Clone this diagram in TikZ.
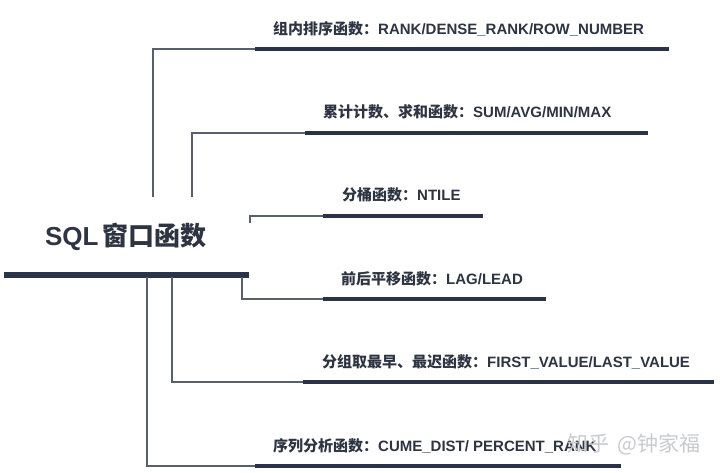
\documentclass[tikz,border=0pt]{standalone}
\usepackage{fontspec}
\newfontfamily\cjk{Noto Sans CJK SC}
\newfontfamily\lat{Liberation Sans}
\definecolor{navy}{HTML}{2B3446}
\definecolor{txt}{HTML}{2E3442}
\definecolor{conn}{HTML}{5A606B}
\definecolor{wm}{HTML}{C9CBCF}
\tikzset{
  bar/.style={navy, line width=4.2pt},
  mainbar/.style={navy, line width=5.5pt},
  link/.style={conn, line width=1.1pt},
  lbl/.style={anchor=west, inner sep=0pt, text=txt, font=\fontsize{15}{17}\selectfont\bfseries},
}
\begin{document}
\begin{tikzpicture}[x=1pt,y=-1pt]
\useasboundingbox (0,0) rectangle (720,473);
\fill[white] (0,0) rectangle (720,473);
% title
\node[inner sep=0pt, text=txt, font=\fontsize{26}{28}\selectfont\bfseries] (title) at (126,237) {\lat SQL\,\cjk 窗口函数};
\coordinate (m0) at (4,275);
\coordinate (m1) at (249,275);
\draw[mainbar] (m0) -- (m1);
% bars
\coordinate (b1s) at (255,49);  \coordinate (b1e) at (669,49);
\coordinate (b2s) at (305,133); \coordinate (b2e) at (648,133);
\coordinate (b3s) at (323,216); \coordinate (b3e) at (483,216);
\coordinate (b4s) at (323,299); \coordinate (b4e) at (546,299);
\coordinate (b5s) at (303,382); \coordinate (b5e) at (714,382);
\coordinate (b6s) at (255,466); \coordinate (b6e) at (621,466);
\foreach \i in {1,...,6} {\draw[bar] (b\i s) -- (b\i e);}
% connector starts
\coordinate (c1) at (153,197);
\coordinate (c2) at (192,197);
\coordinate (c3) at (250,223);
\coordinate (c4) at (242,277);
\coordinate (c5) at (172,277);
\coordinate (c6) at (147,277);
\draw[link] (c1) |- (b1s);
\draw[link] (c2) |- (b2s);
\draw[link] (c3) |- (b3s);
\draw[link] (c4) |- (b4s);
\draw[link] (c5) |- (b5s);
\draw[link] (c6) |- (b6s);
% labels
\node[lbl] (l1) at (273,29) {\cjk 组内排序函数：\lat RANK/DENSE\_RANK/ROW\_NUMBER};
\node[lbl] (l2) at (323,112) {\cjk 累计计数、求和函数：\lat SUM/AVG/MIN/MAX};
\node[lbl] (l3) at (342,195) {\cjk 分桶函数：\lat NTILE};
\node[lbl] (l4) at (341,279) {\cjk 前后平移函数：\lat LAG/LEAD};
\node[lbl] (l5) at (322,362) {\cjk 分组取最早、最迟函数：\lat FIRST\_VALUE/LAST\_VALUE};
\node[lbl] (l6) at (273,446) {\cjk 序列分析函数：\lat CUME\_DIST/ PERCENT\_RANK};
% watermark
\node[anchor=west, inner sep=0pt, text=wm, font=\fontsize{21}{23}\selectfont] (wmk) at (567,444) {\cjk 知乎\hspace{4pt} @钟家福};
\end{tikzpicture}
\end{document}
